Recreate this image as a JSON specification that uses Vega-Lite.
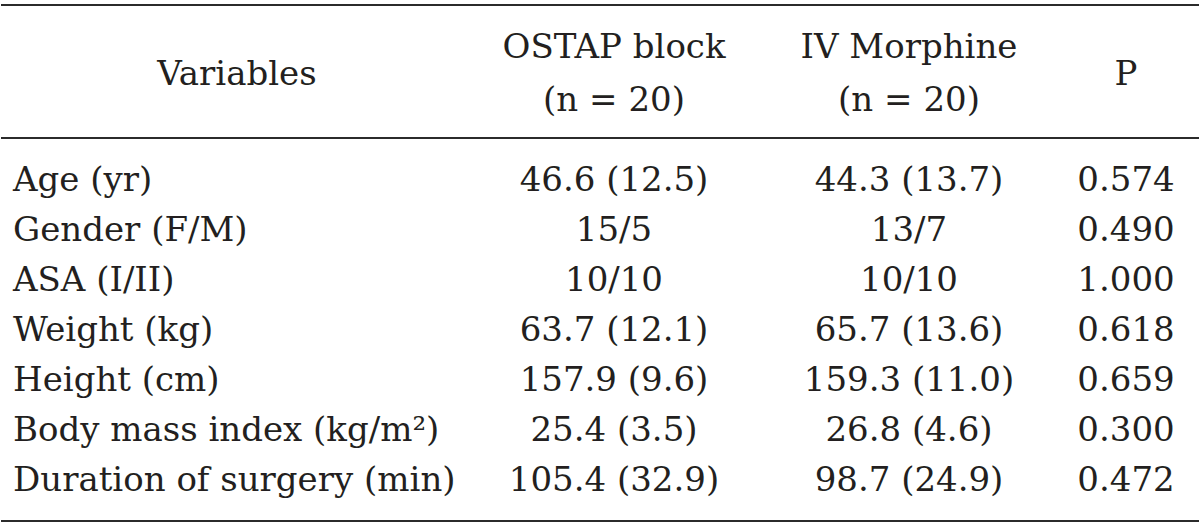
{
  "$schema": "https://vega.github.io/schema/vega-lite/v6.json",
  "width": 1200,
  "height": 524,
  "autosize": {"type": "fit", "contains": "padding"},
  "padding": 0,
  "background": "white",
  "config": {"view": {"stroke": null}},
  "datasets": {
    "cells": [
      {"r": 1.5, "c": 1, "t": "Variables"},
      {"r": 1, "c": 2, "t": "OSTAP block"},
      {"r": 2, "c": 2, "t": "(n = 20)"},
      {"r": 1, "c": 3, "t": "IV Morphine"},
      {"r": 2, "c": 3, "t": "(n = 20)"},
      {"r": 1.5, "c": 4, "t": "P"},
      {"r": 4, "c": 0, "t": "Age (yr)"},
      {"r": 4, "c": 2, "t": "46.6 (12.5)"},
      {"r": 4, "c": 3, "t": "44.3 (13.7)"},
      {"r": 4, "c": 4, "t": "0.574"},
      {"r": 5, "c": 0, "t": "Gender (F/M)"},
      {"r": 5, "c": 2, "t": "15/5"},
      {"r": 5, "c": 3, "t": "13/7"},
      {"r": 5, "c": 4, "t": "0.490"},
      {"r": 6, "c": 0, "t": "ASA (I/II)"},
      {"r": 6, "c": 2, "t": "10/10"},
      {"r": 6, "c": 3, "t": "10/10"},
      {"r": 6, "c": 4, "t": "1.000"},
      {"r": 7, "c": 0, "t": "Weight (kg)"},
      {"r": 7, "c": 2, "t": "63.7 (12.1)"},
      {"r": 7, "c": 3, "t": "65.7 (13.6)"},
      {"r": 7, "c": 4, "t": "0.618"},
      {"r": 8, "c": 0, "t": "Height (cm)"},
      {"r": 8, "c": 2, "t": "157.9 (9.6)"},
      {"r": 8, "c": 3, "t": "159.3 (11.0)"},
      {"r": 8, "c": 4, "t": "0.659"},
      {"r": 9, "c": 0, "t": "Body mass index (kg/m²)"},
      {"r": 9, "c": 2, "t": "25.4 (3.5)"},
      {"r": 9, "c": 3, "t": "26.8 (4.6)"},
      {"r": 9, "c": 4, "t": "0.300"},
      {"r": 10, "c": 0, "t": "Duration of surgery (min)"},
      {"r": 10, "c": 2, "t": "105.4 (32.9)"},
      {"r": 10, "c": 3, "t": "98.7 (24.9)"},
      {"r": 10, "c": 4, "t": "0.472"}
    ],
    "rules": [
      {"r": 0},
      {"r": 3},
      {"r": 11}
    ]
  },
  "layer": [
    {
      "data": {"name": "rules"},
      "mark": {"type": "rule", "stroke": "#2b2b2b", "strokeWidth": 2},
      "encoding": {
        "y": {"field": "r", "type": "quantitative", "axis": null,
              "scale": {"domain": [0, 1, 2, 3, 4, 10, 11], "range": [5, 48, 101, 138, 181, 481, 521], "zero": false, "nice": false}}
      }
    },
    {
      "data": {"name": "cells"},
      "transform": [{"filter": "datum.c == 0"}],
      "mark": {"type": "text", "align": "left", "baseline": "middle", "font": "DejaVu Serif", "fontSize": 34, "color": "#231f20"},
      "encoding": {
        "x": {"field": "c", "type": "quantitative", "axis": null,
              "scale": {"domain": [0, 1, 2, 3, 4], "range": [12, 236, 613, 908, 1125], "zero": false, "nice": false}},
        "y": {"field": "r", "type": "quantitative", "axis": null,
              "scale": {"domain": [0, 1, 2, 3, 4, 10, 11], "range": [5, 48, 101, 138, 181, 481, 521], "zero": false, "nice": false}},
        "text": {"field": "t", "type": "nominal"}
      }
    },
    {
      "data": {"name": "cells"},
      "transform": [{"filter": "datum.c != 0"}],
      "mark": {"type": "text", "align": "center", "baseline": "middle", "font": "DejaVu Serif", "fontSize": 34, "color": "#231f20"},
      "encoding": {
        "x": {"field": "c", "type": "quantitative", "axis": null,
              "scale": {"domain": [0, 1, 2, 3, 4], "range": [12, 236, 613, 908, 1125], "zero": false, "nice": false}},
        "y": {"field": "r", "type": "quantitative", "axis": null,
              "scale": {"domain": [0, 1, 2, 3, 4, 10, 11], "range": [5, 48, 101, 138, 181, 481, 521], "zero": false, "nice": false}},
        "text": {"field": "t", "type": "nominal"}
      }
    }
  ]
}
